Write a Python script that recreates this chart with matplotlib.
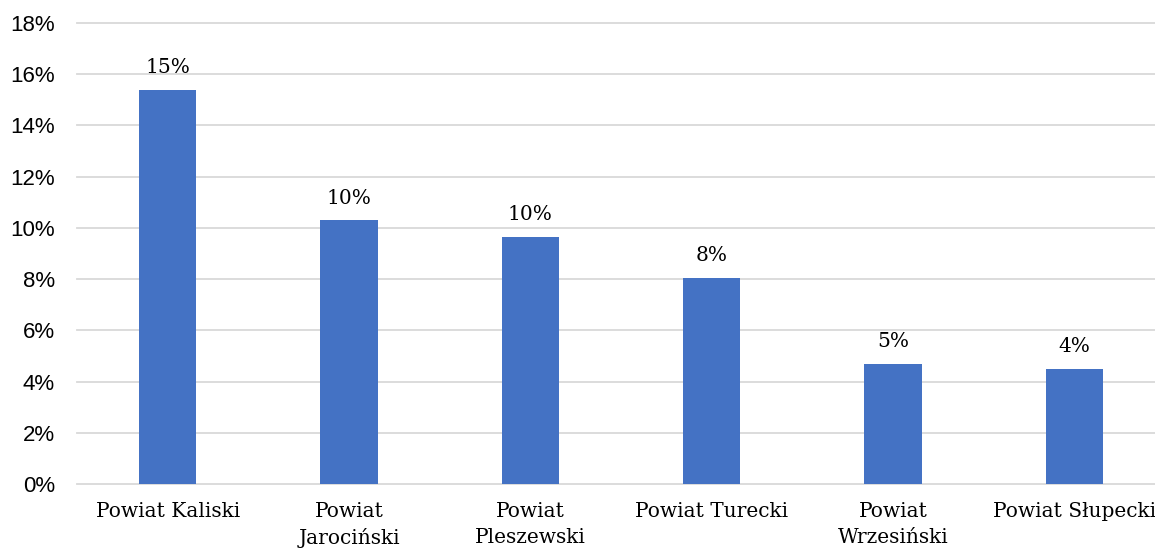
import matplotlib
matplotlib.use("Agg")
import matplotlib.pyplot as plt
from matplotlib.ticker import FuncFormatter

categories = ["Powiat Kaliski", "Powiat\nJarociński", "Powiat\nPleszewski",
              "Powiat Turecki", "Powiat\nWrzesiński", "Powiat Słupecki"]
values = [15.4, 10.3, 9.65, 8.05, 4.7, 4.5]
labels = ["15%", "10%", "10%", "8%", "5%", "4%"]
yticks = list(range(0, 19, 2))

fig = plt.figure(figsize=(11.55, 5.49), dpi=100)
ax = fig.add_axes([77/1155, 65/549, 1088/1155, 461/549])
x = list(range(len(categories)))
bars = ax.bar(x, values, width=0.315, color="#4472C4", zorder=3)
ax.set_xlim(-0.5, len(categories) - 0.5)
ax.set_ylim(0, 18)
ax.set_yticks(yticks)
ax.yaxis.set_major_formatter(FuncFormatter(lambda v, p: f"{int(v)}%"))
ax.grid(axis="y", color="#D9D9D9", linewidth=1.3, zorder=0)
for gl in ax.get_ygridlines():
    gl.set_clip_on(False)
for s in ax.spines.values():
    s.set_visible(False)
ax.tick_params(axis="both", length=0)
ax.tick_params(axis="y", pad=16, labelsize=16)
for t in ax.get_yticklabels():
    t.set_fontfamily("Liberation Sans")
ax.set_xticks(x)
ax.set_xticklabels(categories, fontfamily="DejaVu Serif", fontsize=14.5, linespacing=1.45, va="top")
ax.tick_params(axis="x", pad=13)
for xi, v, lab in zip(x, values, labels):
    ax.annotate(lab, (xi, v), xytext=(0, 9), textcoords="offset points",
                ha="center", va="bottom", fontfamily="DejaVu Serif", fontsize=14.5)
fig.savefig("out.png", dpi=100)
